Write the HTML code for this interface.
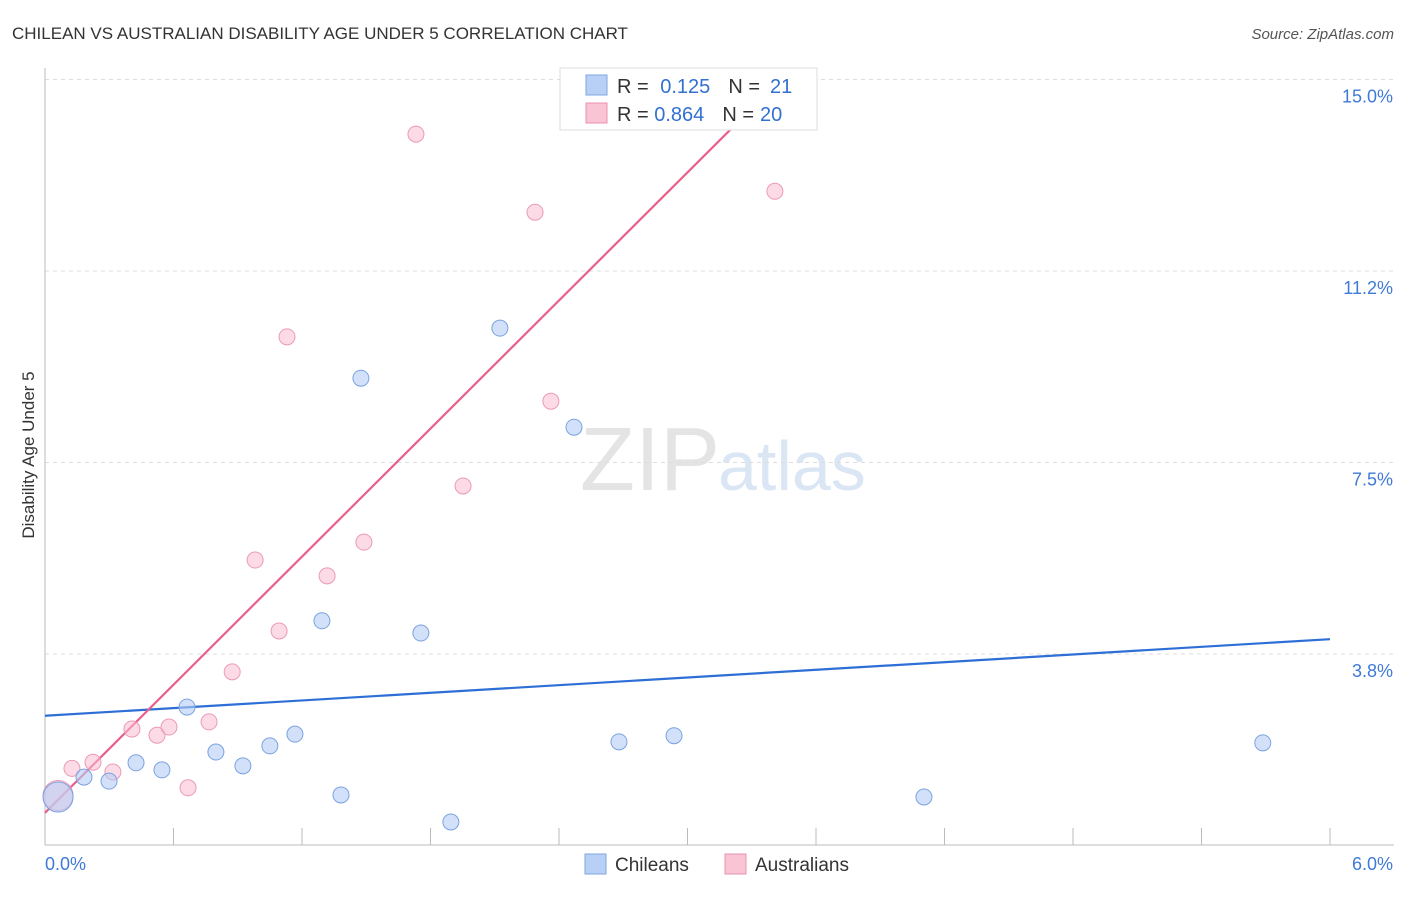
<!DOCTYPE html>
<html><head><meta charset="utf-8"><style>
body{margin:0;background:#fff;font-family:"Liberation Sans",sans-serif}
svg text{font-family:"Liberation Sans",sans-serif}
</style></head><body>
<svg id="c" width="1406" height="892" xmlns="http://www.w3.org/2000/svg">
<text x="12" y="39" font-size="17" fill="#333">CHILEAN VS AUSTRALIAN DISABILITY AGE UNDER 5 CORRELATION CHART</text>
<text x="1394" y="39" font-size="15" fill="#555" text-anchor="end" font-style="italic">Source: ZipAtlas.com</text>
<text x="34" y="455" font-size="17" fill="#333" text-anchor="middle" transform="rotate(-90 34 455)">Disability Age Under 5</text>
<text x="720" y="490" font-size="90" fill="#e4e4e4" text-anchor="end" font-family="Liberation Serif">ZIP</text>
<text x="718" y="490" font-size="70" fill="#dbe6f5">atlas</text>
<g id="grid"></g><g id="lines"></g><g id="pts"></g>
<g>
<rect x="560" y="68" width="257" height="62" fill="#fff" stroke="#ddd"/>
<rect x="586" y="75" width="21" height="20" fill="#b8d0f5" stroke="#7fa6e0"/>
<rect x="586" y="103" width="21" height="20" fill="#f9c5d5" stroke="#ea90ae"/>
<text x="617" y="93" font-size="20" fill="#333">R = <tspan fill="#3370d0" dx="6">0.125</tspan><tspan fill="#333" dx="18">N =</tspan><tspan fill="#3370d0" dx="10">21</tspan></text>
<text x="617" y="121" font-size="20" fill="#333">R = <tspan fill="#3370d0">0.864</tspan><tspan fill="#333" dx="18">N =</tspan><tspan fill="#3370d0" dx="6">20</tspan></text>
</g>
<g>
<rect x="585" y="854" width="21" height="20" fill="#b8d0f5" stroke="#7fa6e0"/>
<text x="615" y="871" font-size="19" fill="#333">Chileans</text>
<rect x="725" y="854" width="21" height="20" fill="#f9c5d5" stroke="#ea90ae"/>
<text x="755" y="871" font-size="19" fill="#333">Australians</text>
</g>
</svg>
<script>
const yTicks=[3.75,7.5,11.25,15];
const yTickLabels=["3.8%","7.5%","11.2%","15.0%"];
const xTickCount=10;
const blueX=[0.061,0.182,0.299,0.425,0.546,0.663,0.798,0.924,1.050,1.167,1.293,1.382,1.475,1.755,1.895,2.124,2.470,2.680,2.937,4.104,5.686];
const blueY=[0.95,1.34,1.26,1.62,1.48,2.71,1.83,1.56,1.95,2.18,4.40,0.99,9.15,4.16,0.46,10.13,8.19,2.03,2.15,0.95,2.01];
const pinkX=[0.061,0.126,0.224,0.317,0.406,0.523,0.579,0.668,0.766,0.874,0.981,1.093,1.130,1.317,1.489,1.732,1.952,2.288,2.362,3.408];
const pinkY=[0.98,1.51,1.63,1.44,2.28,2.16,2.32,1.13,2.42,3.40,5.59,4.20,9.96,5.28,5.94,13.93,7.04,12.40,8.70,12.81];
const blueLine=[[0,2.54],[6,4.04]];
const pinkLine=[[0,0.64],[3.385,14.79]];
const X=v=>45+v*214.17, Y=v=>845.5-v*51.07;
const NS="http://www.w3.org/2000/svg";
function mk(t,a,p){const e=document.createElementNS(NS,t);for(const k in a)e.setAttribute(k,a[k]);p.appendChild(e);return e;}
const g=document.getElementById('grid');
yTicks.forEach((t,i)=>{
const l=mk('line',{x1:45,x2:1394,y1:Y(t),y2:Y(t),stroke:'#ddd','stroke-dasharray':'4 4'},g);


const tx=mk('text',{x:1393,y:Y(t)+23,'font-size':18,fill:'#3f7ad6','text-anchor':'end'},g);
tx.textContent=yTickLabels[i];


});
const ax=mk('line',{x1:45,x2:1394,y1:845,y2:845,stroke:'#bbb'},g);


const ay=mk('line',{x1:45,x2:45,y1:68,y2:845,stroke:'#bbb'},g);


for(let i=1;i<=xTickCount;i++){const t=mk('line',{x1:X(i*0.6),x2:X(i*0.6),y1:828,y2:845,stroke:'#bbb'},g);

}
[["0.0%",45,"start"],["6.0%",1393,"end"]].forEach(a=>{const t=mk('text',{x:a[1],y:870,'font-size':18,fill:'#3f7ad6','text-anchor':a[2]},g);t.textContent=a[0];

});
const L=document.getElementById('lines');
const bl=mk('line',{x1:X(blueLine[0][0]),y1:Y(blueLine[0][1]),x2:X(blueLine[1][0]),y2:Y(blueLine[1][1]),stroke:'#2d6fd6','stroke-width':2.2},L);


const pl=mk('line',{x1:X(pinkLine[0][0]),y1:Y(pinkLine[0][1]),x2:X(pinkLine[1][0]),y2:Y(pinkLine[1][1]),stroke:'#e8608a','stroke-width':2.2},L);


const P=document.getElementById('pts');
pinkX.forEach((x,i)=>{const c=mk('circle',{cx:X(x),cy:Y(pinkY[i]),r:i==0?15:8,fill:'rgba(249,190,210,0.55)',stroke:'#eb9ab5','stroke-width':1},P);

});
blueX.forEach((x,i)=>{const c=mk('circle',{cx:X(x),cy:Y(blueY[i]),r:i==0?15:8,fill:'rgba(180,205,245,0.6)',stroke:'#7aa3e0','stroke-width':1},P);

});
</script>
</body></html>
